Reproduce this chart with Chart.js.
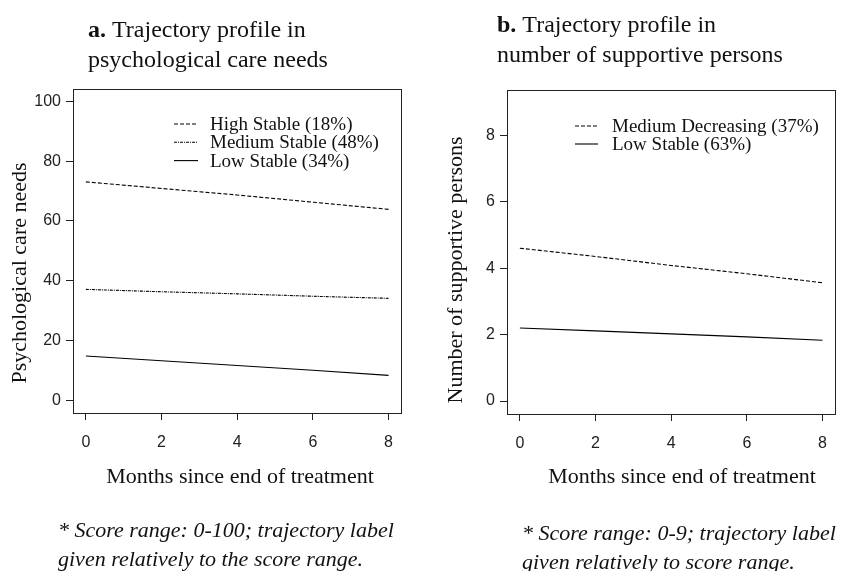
<!DOCTYPE html>
<html>
<head>
<meta charset="utf-8">
<script src="https://cdn.jsdelivr.net/npm/chart.js@4.4.0/dist/chart.umd.min.js"></script>
<style>
  body { margin: 0; background: #fff; width: 842px; height: 571px; overflow: hidden; position: relative; }
  canvas { position: absolute; top: 0; }
  #careChart { left: 0; }
  #supportChart { left: 421px; }
</style>
</head>
<body>
<canvas id="careChart" width="421" height="571"></canvas>
<canvas id="supportChart" width="421" height="571"></canvas>
<script>
// months since end of treatment
const months = [0, 2, 4, 6, 8];
const monthTicks = [0, 2, 4, 6, 8];

// panel a: psychological care needs
const careLabels = ['High Stable (18%)', 'Medium Stable (48%)', 'Low Stable (34%)'];
const careHighStable = [73.1, 70.9, 68.7, 66.3, 63.9];
const careMediumStable = [37.1, 36.3, 35.6, 34.8, 34.1];
const careLowStable = [14.8, 13.2, 11.6, 10.0, 8.3];
const careTicks = [0, 20, 40, 60, 80, 100];

// panel b: number of supportive persons
const supportLabels = ['Medium Decreasing (37%)', 'Low Stable (63%)'];
const supportMediumDecreasing = [4.6, 4.35, 4.08, 3.83, 3.56];
const supportLowStable = [2.2, 2.11, 2.02, 1.93, 1.83];
const supportTicks = [0, 2, 4, 6, 8];

const SERIF = '"Liberation Serif", "DejaVu Serif", serif';
const SANS = '"Liberation Sans", Arial, sans-serif';
const INK = '#111';

const toPoints = (ys) => months.map((m, i) => ({ x: m, y: ys[i] }));

const lineSet = (label, ys, dash) => ({
    label: label,
    data: toPoints(ys),
    borderColor: '#000',
    borderWidth: 1.1,
    borderDash: dash,
    pointRadius: 0,
    fill: false,
    tension: 0,
});

function text(ctx, str, x, y, font, align) {
    ctx.font = font;
    ctx.textAlign = align || 'left';
    ctx.textBaseline = 'alphabetic';
    ctx.fillStyle = INK;
    ctx.fillText(str, x, y);
}

// box, legend and the extra text that R put round the plot
const decor = (cfg) => ({
    id: 'decor',
    afterDraw(chart) {
        const ctx = chart.ctx;
        const a = chart.chartArea;
        ctx.save();
        ctx.strokeStyle = '#222';
        ctx.lineWidth = 1;
        ctx.setLineDash([]);
        ctx.strokeRect(a.left + 0.5, a.top + 0.5, a.right - a.left, a.bottom - a.top);

        // legend
        chart.data.datasets.forEach((ds, i) => {
            const y = cfg.legend.y[i];
            ctx.beginPath();
            ctx.setLineDash(ds.borderDash || []);
            ctx.strokeStyle = '#000';
            ctx.lineWidth = 1.1;
            ctx.moveTo(cfg.legend.x0, y - 6);
            ctx.lineTo(cfg.legend.x1, y - 6);
            ctx.stroke();
            ctx.setLineDash([]);
            text(ctx, ds.label, cfg.legend.tx, y, '19px ' + SERIF);
        });

        // title: bold letter then plain text
        ctx.font = 'bold 24px ' + SERIF;
        const w = ctx.measureText(cfg.letter + ' ').width;
        text(ctx, cfg.letter, cfg.title.x, cfg.title.y[0], 'bold 24px ' + SERIF);
        text(ctx, cfg.title.lines[0], cfg.title.x + w, cfg.title.y[0], '24px ' + SERIF);
        text(ctx, cfg.title.lines[1], cfg.title.x, cfg.title.y[1], '24px ' + SERIF);

        // axis titles
        text(ctx, 'Months since end of treatment', cfg.xTitle.x, cfg.xTitle.y, '22px ' + SERIF, 'center');
        ctx.save();
        ctx.translate(cfg.yTitle.x, cfg.yTitle.y);
        ctx.rotate(-Math.PI / 2);
        text(ctx, cfg.yTitle.text, 0, 0, '22px ' + SERIF, 'center');
        ctx.restore();

        // footnote
        text(ctx, cfg.note.lines[0], cfg.note.x, cfg.note.y[0], 'italic 22px ' + SERIF);
        text(ctx, cfg.note.lines[1], cfg.note.x, cfg.note.y[1], 'italic 22px ' + SERIF);
        ctx.restore();
    }
});

function makeChart(id, datasets, yMin, yMax, yTicks, geom, cfg) {
    const ctx = document.getElementById(id).getContext('2d');
    return new Chart(ctx, {
        type: 'line',
        data: { datasets: datasets },
        options: {
            responsive: false,
            animation: false,
            devicePixelRatio: 1,
            layout: { padding: { top: geom.top, right: geom.right, left: 0, bottom: 0 } },
            plugins: { legend: { display: false }, tooltip: { enabled: false } },
            scales: {
                x: {
                    type: 'linear',
                    min: -0.34,
                    max: 8.33,
                    afterBuildTicks: (s) => { s.ticks = monthTicks.map(v => ({ value: v })); },
                    afterFit: (s) => { s.height = 571 - geom.bottom; },
                    border: { display: false },
                    grid: { drawOnChartArea: false, drawTicks: true, tickLength: 7, color: '#222', lineWidth: 1 },
                    ticks: { padding: 13, color: '#222', font: { family: SANS, size: 16 }, maxRotation: 0 },
                },
                y: {
                    type: 'linear',
                    min: yMin,
                    max: yMax,
                    afterBuildTicks: (s) => { s.ticks = yTicks.map(v => ({ value: v })); },
                    afterFit: (s) => { s.width = geom.left; },
                    border: { display: false },
                    grid: { drawOnChartArea: false, drawTicks: true, tickLength: 7, color: '#222', lineWidth: 1 },
                    ticks: { padding: 5, color: '#222', font: { family: SANS, size: 16 } },
                },
            },
        },
        plugins: [decor(cfg)],
    });
}

makeChart('careChart', [
    lineSet(careLabels[0], careHighStable, [4, 2]),
    lineSet(careLabels[1], careMediumStable, [3, 1, 1, 1]),
    lineSet(careLabels[2], careLowStable, []),
], -4.3, 104.2, careTicks, { top: 89, right: 20, left: 73, bottom: 413 }, {
    letter: 'a.',
    title: { x: 88, y: [37, 67], lines: ['Trajectory profile in', 'psychological care needs'] },
    legend: { x0: 174, x1: 198, tx: 210, y: [130, 148.3, 166.6] },
    xTitle: { x: 240, y: 483 },
    yTitle: { x: 26, y: 273, text: 'Psychological care needs' },
    note: { x: 58, y: [537, 566], lines: ['* Score range: 0-100; trajectory label', 'given relatively to the score range.'] },
});

makeChart('supportChart', [
    lineSet(supportLabels[0], supportMediumDecreasing, [4, 2]),
    lineSet(supportLabels[1], supportLowStable, []),
], -0.39, 9.36, supportTicks, { top: 90, right: 7, left: 86, bottom: 414 }, {
    letter: 'b.',
    title: { x: 76, y: [32, 62], lines: ['Trajectory profile in', 'number of supportive persons'] },
    legend: { x0: 154, x1: 177, tx: 191, y: [132, 150] },
    xTitle: { x: 261, y: 483 },
    yTitle: { x: 41, y: 270, text: 'Number of supportive persons' },
    note: { x: 101, y: [540, 569], lines: ['* Score range: 0-9; trajectory label', 'given relatively to score range.'] },
});
</script>
</body>
</html>
